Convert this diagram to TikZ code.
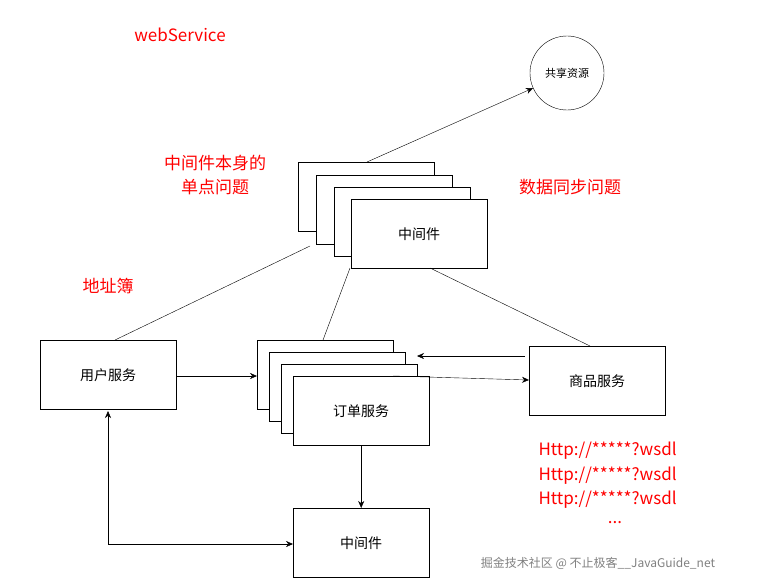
\documentclass[tikz,border=0pt]{standalone}
\usepackage{fontspec}
\setmainfont{Noto Sans CJK SC}
\usetikzlibrary{arrows.meta}
\begin{document}
\begin{tikzpicture}[x=1pt,y=-1pt,
 box/.style={draw,fill=white,minimum width=136pt,minimum height=69pt,anchor=north west,inner sep=0pt,font=\fontsize{14}{16}\selectfont},
 red/.style={text=red,font=\fontsize{17}{24}\selectfont,align=center},
 tip/.style={Stealth[length=7pt,width=6pt]},
 arr/.style={-{Stealth[length=7pt,width=6pt]}},
 http/.style={text=red,font=\fontsize{17}{19}\selectfont}]
\useasboundingbox (0,0) rectangle (765,586);
\node[red] (ws) at (180,35) {webService};
\node[draw,circle,minimum size=74pt,inner sep=0pt,font=\fontsize{11}{13}\selectfont] (share) at (567,73) {共享资源};
\node[box] (m1) at (298,162) {};
\node[box] (m2) at (316,175) {};
\node[box] (m3) at (334,187) {};
\node[box] (m4) at (351,199) {中间件};
\coordinate (mt) at (367,162);
\draw[arr] (mt) -- (share);
\node[red] (t1) at (215,175) {中间件本身的\\单点问题};
\node[red] (t2) at (570,187) {数据同步问题};
\node[red] (t3) at (108,286) {地址簿};
\node[box] (user) at (40,340) {用户服务};
\node[box] (o1) at (257,340) {};
\node[box] (o2) at (269,352) {};
\node[box] (o3) at (281,364) {};
\node[box] (o4) at (293,376) {订单服务};
\node[box] (goods) at (529,346) {商品服务};
\node[box] (mb) at (293,508) {中间件};
\coordinate (ul) at (310,246);
\draw (115,340) -- (ul);
\draw (350,268) -- (323,340);
\draw (430,268) -- (590,346);
\draw[arr] (176,376) -- (257,376);
\draw[arr] (525,356) -- (417,356);
\draw[arr] (393,376) -- (529,380);
\draw[arr] (o4.south) -- (mb.north);
\draw[{Stealth[length=7pt,width=6pt]}-{Stealth[length=7pt,width=6pt]}] (108,411) -- (108,544) -- (mb.west |- 0,544);
\node[http,anchor=west] (h1) at (535,451) {Http://*****?wsdl};
\node[http,anchor=west] (h2) at (535,476) {Http://*****?wsdl};
\node[http,anchor=west] (h3) at (535,500) {Http://*****?wsdl};
\node[http] (h4) at (615,523) {...};
\node[text=gray,font=\fontsize{12}{14}\selectfont] (wm) at (598,563) {掘金技术社区 @ 不止极客\_\_JavaGuide\_net};
\end{tikzpicture}
\end{document}
